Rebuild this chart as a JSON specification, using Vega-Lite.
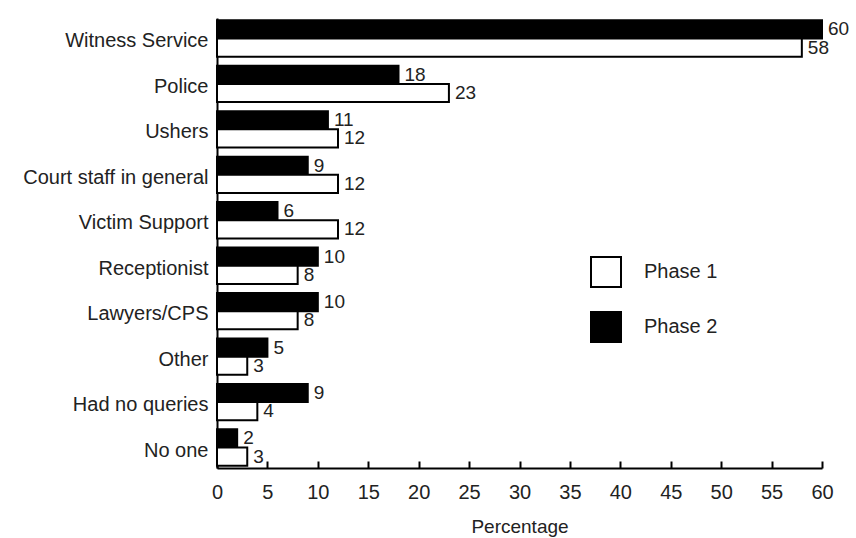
{
  "$schema": "https://vega.github.io/schema/vega-lite/v6.json",
  "autosize": "none",
  "width": 605,
  "height": 450,
  "padding": {"left": 217, "top": 18, "right": 34, "bottom": 70},
  "background": "white",
  "config": {
    "view": {"stroke": null},
    "font": "Liberation Sans",
    "text": {"font": "Liberation Sans"}
  },
  "resolve": {"axis": {"x": "independent"}},
  "data": {
    "values": [
      {"category": "Witness Service", "phase": "Phase 2", "value": 60},
      {"category": "Witness Service", "phase": "Phase 1", "value": 58},
      {"category": "Police", "phase": "Phase 2", "value": 18},
      {"category": "Police", "phase": "Phase 1", "value": 23},
      {"category": "Ushers", "phase": "Phase 2", "value": 11},
      {"category": "Ushers", "phase": "Phase 1", "value": 12},
      {"category": "Court staff in general", "phase": "Phase 2", "value": 9},
      {"category": "Court staff in general", "phase": "Phase 1", "value": 12},
      {"category": "Victim Support", "phase": "Phase 2", "value": 6},
      {"category": "Victim Support", "phase": "Phase 1", "value": 12},
      {"category": "Receptionist", "phase": "Phase 2", "value": 10},
      {"category": "Receptionist", "phase": "Phase 1", "value": 8},
      {"category": "Lawyers/CPS", "phase": "Phase 2", "value": 10},
      {"category": "Lawyers/CPS", "phase": "Phase 1", "value": 8},
      {"category": "Other", "phase": "Phase 2", "value": 5},
      {"category": "Other", "phase": "Phase 1", "value": 3},
      {"category": "Had no queries", "phase": "Phase 2", "value": 9},
      {"category": "Had no queries", "phase": "Phase 1", "value": 4},
      {"category": "No one", "phase": "Phase 2", "value": 2},
      {"category": "No one", "phase": "Phase 1", "value": 3}
    ]
  },
  "encoding": {
    "y": {
      "field": "category",
      "type": "nominal",
      "sort": null,
      "scale": {"paddingInner": 0.2, "paddingOuter": 0.05},
      "axis": {
        "title": null,
        "ticks": false,
        "domainColor": "black",
        "domainWidth": 2,
        "labelFontSize": 20,
        "labelColor": "#222",
        "labelPadding": 9,
        "labelOffset": 3,
        "labelLimit": 300,
        "labelFont": "Liberation Sans"
      }
    },
    "yOffset": {
      "field": "phase",
      "type": "nominal",
      "sort": ["Phase 2", "Phase 1"]
    }
  },
  "layer": [
    {
      "mark": {"type": "bar", "stroke": "black", "strokeWidth": 2},
      "encoding": {
        "x": {
          "field": "value",
          "type": "quantitative",
          "scale": {"domain": [0, 60], "nice": false},
          "axis": {
            "title": "Percentage",
            "values": [0, 5, 10, 15, 20, 25, 30, 35, 40, 45, 50, 55, 60],
            "grid": false,
            "ticks": false,
            "domainColor": "black",
            "domainWidth": 2,
            "labelFontSize": 20,
            "labelColor": "#222",
            "labelPadding": 14,
            "labelFlush": false,
            "labelFont": "Liberation Sans",
            "titleFontSize": 19,
            "titleFontWeight": "normal",
            "titleColor": "#222",
            "titleFont": "Liberation Sans",
            "titlePadding": 15
          }
        },
        "fill": {
          "field": "phase",
          "type": "nominal",
          "scale": {"domain": ["Phase 1", "Phase 2"], "range": ["white", "black"]},
          "legend": {
            "title": null,
            "orient": "none",
            "legendX": 373,
            "legendY": 238,
            "padding": 0,
            "symbolType": "square",
            "symbolSize": 900,
            "symbolStrokeColor": "black",
            "symbolStrokeWidth": 2,
            "rowPadding": 17,
            "labelFontSize": 20,
            "labelColor": "#222",
            "labelFont": "Liberation Sans",
            "labelOffset": 22
          }
        }
      }
    },
    {
      "mark": {"type": "text", "align": "left", "baseline": "middle", "dx": 6, "fontSize": 19, "color": "#222"},
      "encoding": {
        "x": {
          "field": "value",
          "type": "quantitative",
          "axis": {
            "orient": "top",
            "offset": -450,
            "title": null,
            "values": [0, 5, 10, 15, 20, 25, 30, 35, 40, 45, 50, 55, 60],
            "grid": false,
            "labels": false,
            "domain": false,
            "ticks": true,
            "tickColor": "black",
            "tickWidth": 2,
            "tickSize": 7
          }
        },
        "text": {"field": "value", "type": "quantitative"}
      }
    }
  ]
}
